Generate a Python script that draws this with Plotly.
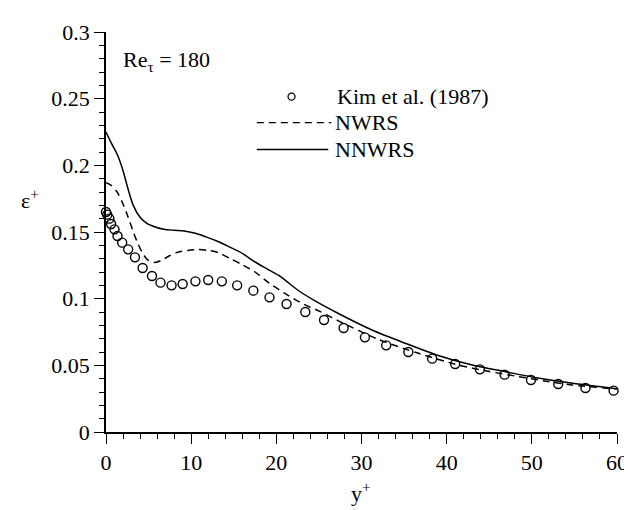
import plotly.graph_objects as go

# Kim et al. (1987) DNS data
kim_x = [0.0, 0.15, 0.4, 0.6, 1.0, 1.35, 1.9, 2.6, 3.4, 4.3, 5.4, 6.4, 7.7, 9.0, 10.5,
         12.0, 13.6, 15.4, 17.3, 19.2, 21.2, 23.4, 25.6, 27.9, 30.4, 32.9, 35.5, 38.3,
         41.0, 43.9, 46.8, 49.9, 53.1, 56.3, 59.6]
kim_y = [0.165, 0.163, 0.160, 0.156, 0.152, 0.147, 0.142, 0.137, 0.131, 0.123, 0.117, 0.112,
         0.110, 0.111, 0.113, 0.114, 0.113, 0.110, 0.106, 0.101, 0.096, 0.090, 0.084, 0.078,
         0.071, 0.065, 0.060, 0.055, 0.051, 0.047, 0.043, 0.039, 0.036, 0.033, 0.031]

# NWRS (dashed)
nwrs_x = [0, 0.6, 1.3, 2.0, 2.6, 3.1, 3.7, 4.4, 5.0, 5.8, 6.6, 7.4, 8.4, 9.6, 10.8, 12.0,
          13.2, 14.6, 16.0, 17.5, 19.2, 21.0, 23.0, 25.1, 27.4, 32.0, 36.7, 41.4, 44.9,
          48.4, 51.5, 54.7, 60]
nwrs_y = [0.187, 0.185, 0.180, 0.171, 0.161, 0.152, 0.142, 0.133, 0.1285, 0.1272, 0.1290,
          0.1320, 0.1348, 0.1362, 0.1368, 0.1362, 0.1345, 0.1300, 0.1255, 0.1200, 0.1115,
          0.1040, 0.0965, 0.0905, 0.0830, 0.0694, 0.0590, 0.0502, 0.0455, 0.0416, 0.0383,
          0.0353, 0.0322]

# NNWRS (solid)
nnwrs_x = [0, 0.6, 1.4, 2.0, 2.6, 3.2, 4.0, 4.8, 5.7, 6.8, 8.0, 9.2, 10.5, 11.9, 13.3, 14.6,
           16.0, 17.5, 19.0, 20.5, 22.5, 24.5, 27.4, 31.3, 35.2, 39.1, 43.0, 46.9, 50.7,
           54.6, 60]
nnwrs_y = [0.225, 0.217, 0.207, 0.196, 0.182, 0.170, 0.161, 0.1565, 0.154, 0.152, 0.1513,
           0.1508, 0.149, 0.146, 0.1425, 0.1385, 0.134, 0.1275, 0.122, 0.1165, 0.1065,
           0.0985, 0.0885, 0.0763, 0.0664, 0.0572, 0.0502, 0.0452, 0.0405, 0.0368, 0.0325]

x_ticks = [0, 10, 20, 30, 40, 50, 60]
y_ticks = [0, 0.05, 0.1, 0.15, 0.2, 0.25, 0.3]
y_tick_text = ["0", "0.05", "0.1", "0.15", "0.2", "0.25", "0.3"]

FONT = "Liberation Serif, Times New Roman, serif"
W, H = 632, 510
L, R, T, B = 98, 19, 22, 86
PW, PH = W - L - R, H - T - B


def px(xp):
    return (xp - L) / PW


def py(yp):
    return (H - B - yp) / PH


fig = go.Figure()
fig.add_trace(go.Scatter(x=nnwrs_x, y=nnwrs_y, mode="lines", name="NNWRS",
                         line=dict(color="black", width=1.5, shape="spline", smoothing=0.8),
                         showlegend=False, cliponaxis=False))
fig.add_trace(go.Scatter(x=nwrs_x, y=nwrs_y, mode="lines", name="NWRS",
                         line=dict(color="black", width=1.5, dash="7px,5px",
                                   shape="spline", smoothing=0.8),
                         showlegend=False, cliponaxis=False))
fig.add_trace(go.Scatter(x=kim_x, y=kim_y, mode="markers", name="Kim et al. (1987)",
                         marker=dict(symbol="circle-open", size=9, color="black",
                                     line=dict(width=1.4, color="black")),
                         showlegend=False, cliponaxis=False))

axis_common = dict(showgrid=False, zeroline=False, showline=True, linecolor="black",
                   linewidth=1.5, ticks="outside", tickcolor="black", tickwidth=1.3,
                   ticklen=10, tickfont=dict(family=FONT, size=22, color="black"))

fig.update_xaxes(range=[0, 60], tickvals=x_ticks, ticktext=[str(v) for v in x_ticks],
                 minor=dict(dtick=2, ticks="outside", ticklen=5, tickcolor="black",
                            tickwidth=1.2, showgrid=False),
                 **axis_common)
fig.update_yaxes(range=[0, 0.3], tickvals=y_ticks, ticktext=y_tick_text,
                 minor=dict(dtick=0.01, ticks="outside", ticklen=5, tickcolor="black",
                            tickwidth=1.2, showgrid=False),
                 **axis_common)

tf = dict(family=FONT, size=22, color="black")
annotations = [
    dict(text="ε<sup>+</sup>", x=px(21), y=py(190), xref="paper", yref="paper",
         xanchor="center", yanchor="middle", showarrow=False, font=tf),
    dict(text="y<sup>+</sup>", x=px(355), y=py(484), xref="paper", yref="paper",
         xanchor="center", yanchor="middle", showarrow=False, font=tf),
    dict(text="Re<sub>τ</sub> = 180", x=px(113), y=py(51), xref="paper", yref="paper",
         xanchor="left", yanchor="middle", showarrow=False, font=tf),
    dict(text="Kim et al. (1987)", x=px(329), y=py(87), xref="paper", yref="paper",
         xanchor="left", yanchor="middle", showarrow=False, font=tf),
    dict(text="NWRS", x=px(327), y=py(113), xref="paper", yref="paper",
         xanchor="left", yanchor="middle", showarrow=False, font=tf),
    dict(text="NNWRS", x=px(327), y=py(140), xref="paper", yref="paper",
         xanchor="left", yanchor="middle", showarrow=False, font=tf),
]

shapes = [
    dict(type="circle", xref="paper", yref="paper",
         x0=px(281.5), x1=px(288.5), y0=py(90.5), y1=py(83.5),
         line=dict(color="black", width=1.3)),
    dict(type="line", xref="paper", yref="paper", x0=px(250), x1=px(325),
         y0=py(113), y1=py(113), line=dict(color="black", width=1.3, dash="7px,5px")),
    dict(type="line", xref="paper", yref="paper", x0=px(250), x1=px(322),
         y0=py(140), y1=py(140), line=dict(color="black", width=1.5)),
]

fig.update_layout(width=W, height=H, margin=dict(l=L, r=R, t=T, b=B),
                  paper_bgcolor="white", plot_bgcolor="white",
                  annotations=annotations, shapes=shapes, showlegend=False)

fig.write_html("out.html")
